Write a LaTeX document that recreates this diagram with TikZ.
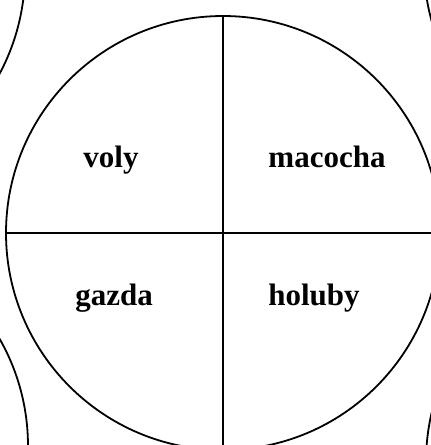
\documentclass[tikz,border=0pt]{standalone}
\usepackage{fontspec}
\setmainfont{Liberation Serif}
\usetikzlibrary{positioning}
\tikzset{
  plate/.style={draw, circle, line width=1.8pt, minimum size=434pt, inner sep=0pt},
  rim/.style={draw, circle, line width=1.8pt, minimum size=432pt, inner sep=0pt},
  word/.style={font=\fontsize{31}{36}\selectfont\bfseries, anchor=base, inner sep=0pt},
  split/.style={line width=1.8pt},
}
\begin{document}
\begin{tikzpicture}[x=1pt, y=-1pt]
\useasboundingbox (0,0) rectangle (431,445);
\clip (0,0) rectangle (431,445);

% neighbouring plates
\node[rim] (nw) at (-191,-28) {};
\node[rim] (ne) at (640,-36) {};
\node[rim] (sw) at (-188,446) {};
\node[rim] (se) at (642,462) {};

% main plate
\node[plate] (main) at (223,233) {};
\coordinate (bottom) at (223,445);
\coordinate (right) at (431,233);
\draw[split] (main.north) -- (bottom);
\draw[split] (main.west) -- (right);

% quarters
\node[word] (voly) at (111,167) {voly};
\node[word] (macocha) at (327,167) {macocha};
\node[word] (gazda) at (114,305) {gazda};
\node[word] (holuby) at (314,305) {holuby};

\end{tikzpicture}
\end{document}
